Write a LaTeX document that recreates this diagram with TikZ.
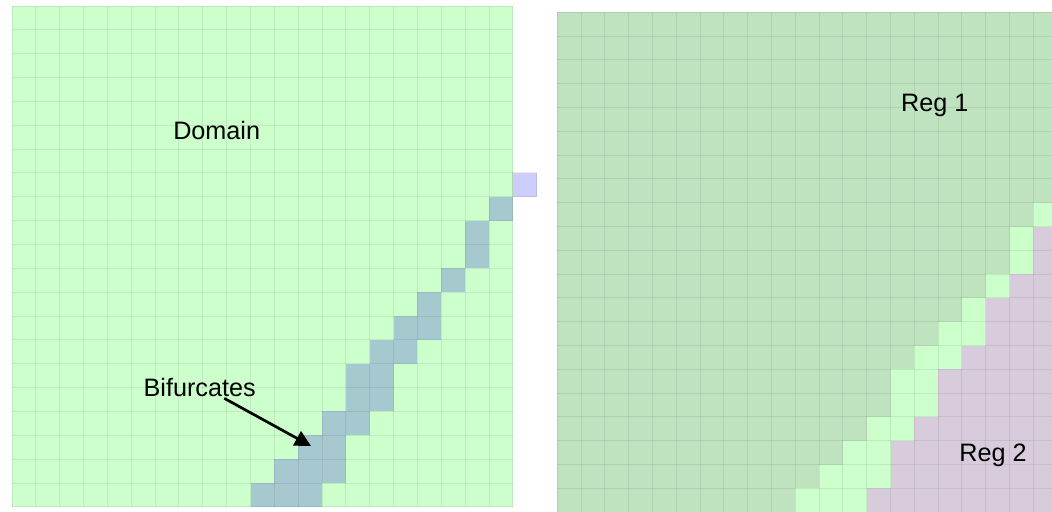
\documentclass[tikz,border=0pt]{standalone}
\usepackage{fontspec}
\setmainfont{Liberation Sans}
\usetikzlibrary{arrows.meta}
\definecolor{domgreen}{HTML}{CCFFCC}
\definecolor{bifblue}{HTML}{A6C9CF}
\definecolor{outpurple}{HTML}{CCCCFF}
\definecolor{regone}{HTML}{BFE3BF}
\definecolor{regtwo}{HTML}{D8CCDC}
\tikzset{
  gridline/.style={draw=black, draw opacity=0.08, line width=0.5pt},
  lbl/.style={anchor=base, inner sep=0pt, font=\fontsize{12.6}{15}\selectfont},
  pointer/.style={draw=black, line width=1.35pt, -{Triangle[length=8pt,width=8pt]}},
}
\begin{document}
\begin{tikzpicture}[x=0.5pt,y=-0.5pt]
\useasboundingbox (0,0) rectangle (1052,511);
\clip (0,0) rectangle (1052,511);
% ---------- left panel ----------
\def\lx{12}\def\ly{6}\def\cs{23.85}
\fill[domgreen] (\lx,\ly) rectangle ({\lx+21*\cs},{\ly+21*\cs});
\foreach \r/\a/\b in {8/20/20,9/19/19,10/19/19,11/18/18,12/17/17,13/16/17,14/15/16,15/14/15,16/14/15,17/13/14,18/12/13,19/11/13,20/10/12}{
  \fill[bifblue] ({\lx+\a*\cs},{\ly+\r*\cs}) rectangle ({\lx+(\b+1)*\cs},{\ly+(\r+1)*\cs});
}
\foreach \i in {0,...,21}{
  \draw[gridline] ({\lx+\i*\cs},\ly) -- ({\lx+\i*\cs},{\ly+21*\cs});
  \draw[gridline] (\lx,{\ly+\i*\cs}) -- ({\lx+21*\cs},{\ly+\i*\cs});
}
\filldraw[fill=outpurple, gridline] ({\lx+21*\cs},{\ly+7*\cs}) rectangle ({\lx+22*\cs},{\ly+8*\cs});
% ---------- right panel ----------
\def\rx{557.3}\def\ry{12.3}\def\cr{23.8}
\fill[regone] (\rx,\ry) rectangle ({\rx+21*\cr},{\ry+21*\cr});
\foreach \r/\a/\b in {8/20/20,9/19/19,10/19/19,11/18/18,12/17/17,13/16/17,14/15/16,15/14/15,16/14/15,17/13/14,18/12/13,19/11/13,20/10/12}{
  \fill[domgreen] ({\rx+\a*\cr},{\ry+\r*\cr}) rectangle ({\rx+(\b+1)*\cr},{\ry+(\r+1)*\cr});
  \ifnum\b<20
    \fill[regtwo] ({\rx+(\b+1)*\cr},{\ry+\r*\cr}) rectangle ({\rx+21*\cr},{\ry+(\r+1)*\cr});
  \fi
}
\foreach \i in {0,...,21}{
  \draw[gridline] ({\rx+\i*\cr},\ry) -- ({\rx+\i*\cr},{\ry+21*\cr});
  \draw[gridline] (\rx,{\ry+\i*\cr}) -- ({\rx+21*\cr},{\ry+\i*\cr});
}
% ---------- labels ----------
\node[lbl] (domain) at (216.7,139) {Domain};
\node[lbl] (bif) at (199.7,396.7) {Bifurcates};
\node[lbl] (regA) at (934.8,111.7) {Reg 1};
\node[lbl] (regB) at (993,461.7) {Reg 2};
\coordinate (arrstart) at (224.3,398.3);
\coordinate (arrtip) at (311,446);
\draw[pointer] (arrstart) -- (arrtip);
\end{tikzpicture}
\end{document}
